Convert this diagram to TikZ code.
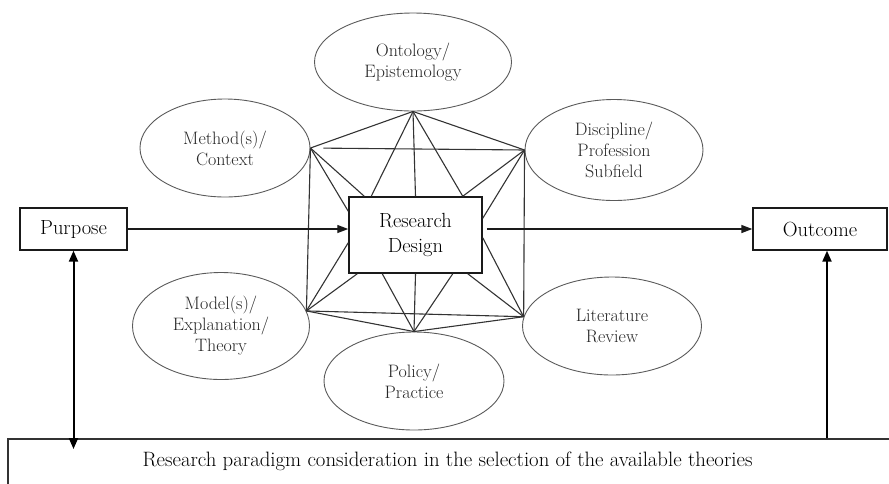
\documentclass[tikz,border=0pt]{standalone}
\usetikzlibrary{arrows.meta, positioning, shapes.geometric}
\definecolor{cink}{HTML}{1A1A1A}
\definecolor{cline}{HTML}{333333}
\definecolor{coval}{HTML}{5A5A5A}
\tikzset{
  every picture/.style={line width=1.2pt},
  oval/.style={ellipse, draw=coval, line width=0.9pt, inner sep=0pt, minimum height=98pt, align=center, text=black!85, font=\fontsize{18}{21}\selectfont},
  box/.style={draw=cink, line width=1.3pt, inner sep=0pt, minimum height=42pt, align=center, font=\fontsize{20.5}{25}\selectfont},
  web/.style={draw=cline, line width=1.1pt},
  arrow/.style={-{Triangle[length=11pt, width=8pt]}, draw=cink, line width=1.3pt},
  bigarrow/.style={-{Triangle[length=11pt, width=9pt]}, draw=black, line width=2pt},
  twoway/.style={{Triangle[length=11pt, width=9pt]}-{Triangle[length=11pt, width=9pt]}, draw=black, line width=2pt},
  frame/.style={draw=cline, line width=2.2pt, inner sep=0pt, anchor=north west},
  note/.style={font=\fontsize{20.8}{25}\selectfont},
}
\begin{document}
\begin{tikzpicture}[x=1pt, y=-1pt]
  \useasboundingbox (0,0) rectangle (889,483);
  % the six considerations round the design
  \node[oval, minimum width=197pt] (onto) at (413,62) {Ontology/\\Epistemology};
  \node[oval, minimum width=170pt] (meth) at (225,148) {Method(s)/\\Context};
  \node[oval, minimum width=178pt, minimum height=101pt] (disc) at (614,150) {Discipline/\\Profession\\Subfield};
  \node[oval, minimum width=177pt, minimum height=107pt] (model) at (221,326) {Model(s)/\\Explanation/\\Theory};
  \node[oval, minimum width=179pt] (lit) at (612,326) {Literature\\Review};
  \node[oval, minimum width=180pt] (poli) at (414,381) {Policy/\\Practice};
  \node[box, minimum width=133pt, minimum height=76pt, line width=1.5pt] (design) at (415.5,235) {Research\\Design};
  \node[box, minimum width=107pt] (purpose) at (73.5,229) {Purpose};
  \node[box, minimum width=134pt] (outcome) at (820,229) {Outcome};
  % where the web meets the design box
  \coordinate (tA) at ([xshift=16pt]design.north west);
  \coordinate (tB) at ([xshift=23pt]design.north west);
  \coordinate (tC) at (design.north);
  \coordinate (tD) at ([xshift=-20pt]design.north east);
  \coordinate (lA) at ([yshift=-15pt]design.north west);
  \coordinate (lB) at ([yshift=31pt]design.south west);
  \coordinate (rA) at ([yshift=-22pt]design.north east);
  \coordinate (rB) at ([yshift=36pt]design.south east);
  \coordinate (bA) at ([xshift=9pt]design.south west);
  \coordinate (bB) at ([xshift=34pt]design.south west);
  \coordinate (bC) at (design.south);
  \coordinate (bD) at ([xshift=-30pt]design.south east);
  \coordinate (bE) at ([xshift=-15pt]design.south east);
  \foreach \a/\b in {onto.south/meth.east, onto.south/disc.west, onto.south/tB, onto.south/tC, onto.south/tD,
                     meth.east/model.10, meth.east/tA, meth.east/lA,
                     disc.west/lit.174, disc.west/tD, disc.west/rA,
                     model.10/lit.174, model.10/poli.north, model.10/lB, model.10/bA,
                     poli.north/lit.174, poli.north/bB, poli.north/bC, poli.north/bD,
                     lit.174/bE, lit.174/rB}
    \draw[web] (\a) -- (\b);
  \draw[web, shorten <=13pt] (meth.east) -- (disc.west);
  \draw[arrow] (purpose.east) -- (purpose.east -| design.west);
  \draw[arrow, shorten <=4pt] (outcome.west -| design.east) -- (outcome.west);
  % paradigm frame along the bottom
  \node[frame, minimum width=900pt, minimum height=80pt] (frame) at (7,438) {};
  \node[note] (paradigm) at (447.5,461) {Research paradigm consideration in the selection of the available theories};
  \coordinate (pfoot) at (73.5,449);
  \coordinate (ofoot) at (827,438);
  \draw[twoway] (purpose.south) -- (pfoot);
  \draw[bigarrow] (ofoot) -- (ofoot |- outcome.south);
\end{tikzpicture}
\end{document}
